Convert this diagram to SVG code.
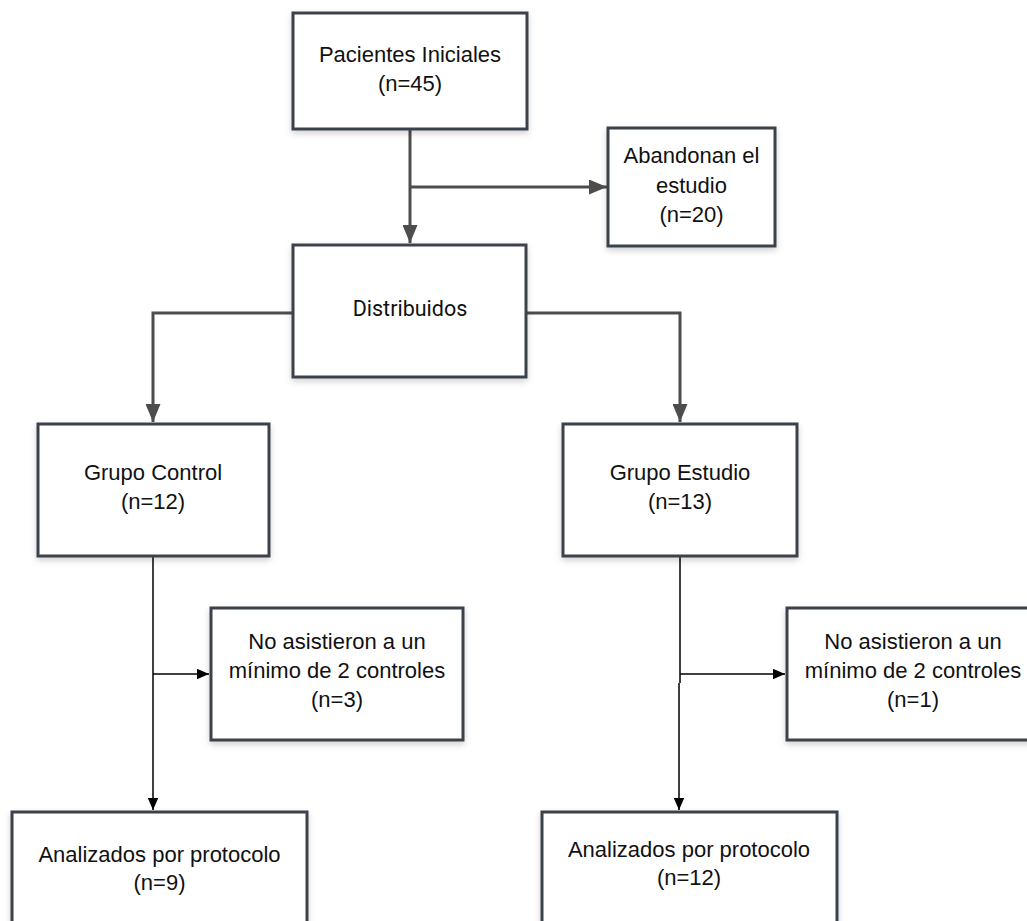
<svg xmlns="http://www.w3.org/2000/svg" width="1027" height="921" viewBox="0 0 1027 921">
<style>
.box{fill:#fff;stroke:#3b434c;stroke-width:3;filter:url(#sh)}
.t{font-family:"Liberation Sans",Arial,sans-serif;font-size:22px;fill:#111;text-anchor:middle}
.r{font-family:Roboto,"Liberation Sans",sans-serif;font-size:21.5px;fill:#111;text-anchor:middle}
.thick{fill:none;stroke:#4d4d4d;stroke-width:3}
.thin{fill:none;stroke:#000;stroke-width:1.5}
</style>
<defs>
<filter id="sh" x="-10%" y="-10%" width="125%" height="130%">
<feDropShadow dx="0" dy="3" stdDeviation="3" flood-color="#000" flood-opacity="0.18"/>
</filter>
<marker id="ah" markerWidth="6" markerHeight="5" refX="6" refY="2.5" orient="auto" markerUnits="strokeWidth">
<path d="M0,0 L6,2.5 L0,5 z" fill="#4d4d4d"/>
</marker>
<marker id="ahs" markerWidth="8" markerHeight="7" refX="8" refY="3.5" orient="auto" markerUnits="strokeWidth">
<path d="M0,0 L8,3.5 L0,7 z" fill="#000"/>
</marker>
</defs>
<rect width="1027" height="921" fill="#fff"/>
<g id="connectors">
<path class="thick" d="M410,129 V243" marker-end="url(#ah)"/>
<path class="thick" d="M410,187 H607" marker-end="url(#ah)"/>
<path class="thick" d="M293,313 H153 V422" marker-end="url(#ah)"/>
<path class="thick" d="M527,313 H680 V422" marker-end="url(#ah)"/>
<path class="thin" d="M153,557 V810" marker-end="url(#ahs)"/>
<path class="thin" d="M153,674 H209" marker-end="url(#ahs)"/>
<path class="thin" d="M680,557 V683 M679,683 V810" marker-end="url(#ahs)"/>
<path class="thin" d="M680,674 H785" marker-end="url(#ahs)"/>
</g>
<g id="n-pacientes">
<rect class="box" x="293" y="13" width="234" height="116"/>
<text class="t" x="410" y="62">Pacientes Iniciales</text>
<text class="t" x="410" y="91">(n=45)</text>
</g>
<g id="n-abandonan">
<rect class="box" x="608" y="128" width="167" height="118"/>
<text class="t" x="691.5" y="163">Abandonan el</text>
<text class="t" x="691.5" y="193">estudio</text>
<text class="t" x="691.5" y="222">(n=20)</text>
</g>
<g id="n-distribuidos">
<rect class="box" x="293" y="245" width="233" height="132"/>
<text class="r" x="410" y="316">Distribuidos</text>
</g>
<g id="n-control">
<rect class="box" x="38" y="424" width="231" height="132"/>
<text class="t" x="153" y="480">Grupo Control</text>
<text class="t" x="153" y="509">(n=12)</text>
</g>
<g id="n-estudio">
<rect class="box" x="563" y="424" width="234" height="132"/>
<text class="t" x="680" y="480">Grupo Estudio</text>
<text class="t" x="680" y="509">(n=13)</text>
</g>
<g id="n-noasist-control">
<rect class="box" x="211" y="608" width="252" height="132"/>
<text class="t" x="337" y="649">No asistieron a un</text>
<text class="t" x="337" y="678">mínimo de 2 controles</text>
<text class="t" x="337" y="707">(n=3)</text>
</g>
<g id="n-noasist-estudio">
<rect class="box" x="787" y="608" width="252" height="132"/>
<text class="t" x="913" y="649">No asistieron a un</text>
<text class="t" x="913" y="678">mínimo de 2 controles</text>
<text class="t" x="913" y="707">(n=1)</text>
</g>
<g id="n-analizados-control">
<rect class="box" x="12" y="812" width="295" height="130"/>
<text class="t" x="159.5" y="862">Analizados por protocolo</text>
<text class="t" x="159.5" y="890">(n=9)</text>
</g>
<g id="n-analizados-estudio">
<rect class="box" x="542" y="812" width="295" height="130"/>
<text class="t" x="689" y="857">Analizados por protocolo</text>
<text class="t" x="689" y="885">(n=12)</text>
</g>
</svg>
